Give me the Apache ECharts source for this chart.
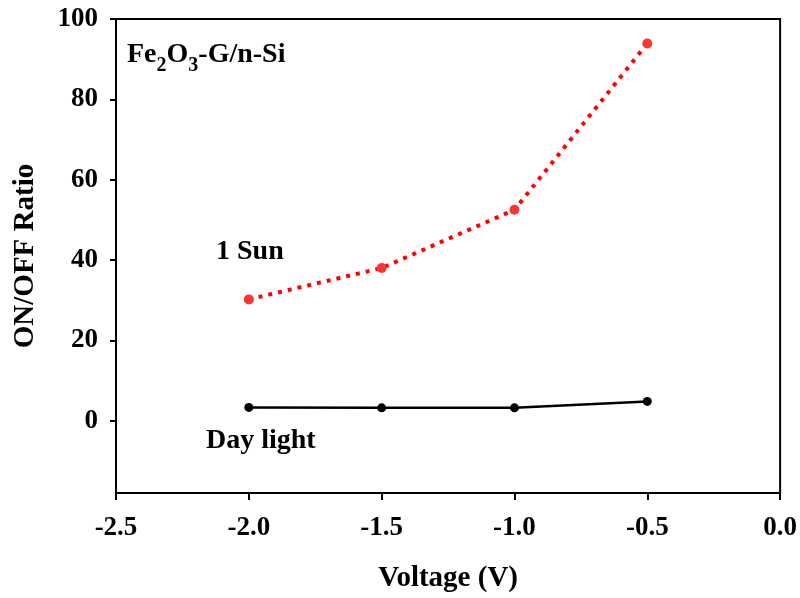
<!DOCTYPE html>
<html>
<head>
<meta charset="utf-8">
<script src="https://cdn.jsdelivr.net/npm/echarts@6/dist/echarts.min.js"></script>
<style>html,body{margin:0;padding:0;background:#fff}#c{width:800px;height:598px}</style>
</head>
<body>
<div id="c"></div>
<script>
const voltage = [-2.0, -1.5, -1.0, -0.5];
const sunRatio = [30.2, 38.0, 52.5, 93.9];
const dayRatio = [3.3, 3.2, 3.2, 4.8];
const yTickValues = [0, 20, 40, 60, 80, 100];
const xTitle = 'Voltage (V)';
const yTitle = 'ON/OFF Ratio';
const F = 'Liberation Serif';

const chart = echarts.init(document.getElementById('c'), null, {renderer: 'canvas'});
chart.setOption({
  animation: false,
  backgroundColor: '#fff',
  grid: {left: 116, right: 19, top: 19, bottom: 102, show: true, borderColor: '#000', borderWidth: 2, backgroundColor: 'transparent'},
  xAxis: {
    type: 'value', min: -2.5, max: 0, interval: 0.5,
    axisLine: {show: true, onZero: false, lineStyle: {color: '#000', width: 2}},
    axisTick: {show: true, length: 7, lineStyle: {color: '#000', width: 2}},
    splitLine: {show: false},
    axisLabel: {color: '#000', fontFamily: F, fontWeight: 'bold', fontSize: 27, margin: 22,
      formatter: v => v.toFixed(1)},
    name: xTitle, nameLocation: 'middle', nameGap: 71,
    nameTextStyle: {color: '#000', fontFamily: F, fontWeight: 'bold', fontSize: 29}
  },
  yAxis: {
    type: 'value', min: -18, max: 100,
    axisLine: {show: true, onZero: false, lineStyle: {color: '#000', width: 2}},
    axisTick: {show: true, length: 6, customValues: yTickValues, lineStyle: {color: '#000', width: 2}},
    splitLine: {show: false},
    axisLabel: {color: '#000', fontFamily: F, fontWeight: 'bold', fontSize: 27, margin: 18, customValues: yTickValues},
    name: yTitle, nameLocation: 'middle', nameGap: 76, nameRotate: 90,
    nameTextStyle: {color: '#000', fontFamily: F, fontWeight: 'bold', fontSize: 29}
  },
  series: [
    {
      type: 'line', data: voltage.map((v, i) => [v, sunRatio[i]]),
      symbol: 'circle', symbolSize: 10,
      itemStyle: {color: '#ff3333'},
      lineStyle: {color: '#ff0000', width: 4, type: [4, 6], cap: 'butt'},
      z: 3
    },
    {
      type: 'line', data: voltage.map((v, i) => [v, dayRatio[i]]),
      symbol: 'circle', symbolSize: 9,
      itemStyle: {color: '#000'},
      lineStyle: {color: '#000', width: 2.5},
      z: 3
    }
  ],
  graphic: [
    {type: 'text', left: 127, top: 41, style: {
      text: '{b|Fe}{s|2}{b|O}{s|3}{b|-G/n-Si}',
      rich: {
        b: {fontFamily: F, fontWeight: 'bold', fontSize: 28, fill: '#000', verticalAlign: 'bottom', lineHeight: 30},
        s: {fontFamily: F, fontWeight: 'bold', fontSize: 20, fill: '#000', verticalAlign: 'bottom', lineHeight: 20, padding: [0, 0, -7, 0]}
      }
    }},
    {type: 'text', left: 216, top: 238, style: {text: '1 Sun', fontFamily: F, fontWeight: 'bold', fontSize: 28, fill: '#000'}},
    {type: 'text', left: 206, top: 427, style: {text: 'Day light', fontFamily: F, fontWeight: 'bold', fontSize: 28, fill: '#000'}}
  ]
});
</script>
</body>
</html>
